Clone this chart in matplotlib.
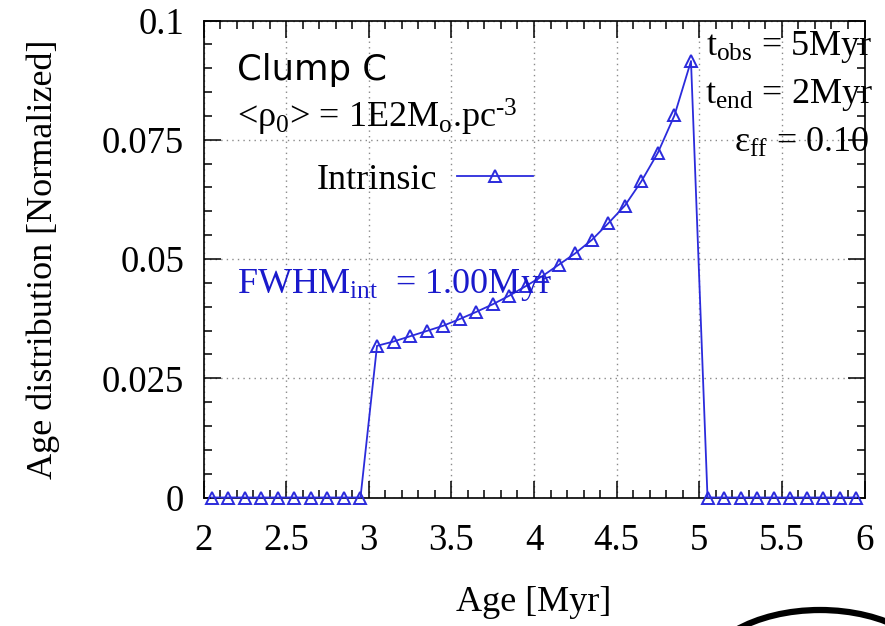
import matplotlib
matplotlib.use("Agg")
import matplotlib.pyplot as plt
from matplotlib.patches import Arc
from matplotlib.ticker import MultipleLocator
import numpy as np

# ---------------- data ----------------
age = [2.05, 2.15, 2.25, 2.35, 2.45, 2.55, 2.65, 2.75, 2.85, 2.95,
       3.05, 3.15, 3.25, 3.35, 3.45, 3.55, 3.65, 3.75, 3.85, 3.95,
       4.05, 4.15, 4.25, 4.35, 4.45, 4.55, 4.65, 4.75, 4.85, 4.95,
       5.05, 5.15, 5.25, 5.35, 5.45, 5.55, 5.65, 5.75, 5.85, 5.95]
intrinsic = [0, 0, 0, 0, 0, 0, 0, 0, 0, 0,
             0.0318, 0.0327, 0.0338, 0.0349, 0.0360, 0.0374, 0.0389, 0.0405, 0.0423, 0.0443,
             0.0464, 0.0488, 0.0512, 0.0540, 0.0575, 0.0612, 0.0663, 0.0723, 0.0801, 0.0915,
             0, 0, 0, 0, 0, 0, 0, 0, 0, 0]
xticks = [2, 2.5, 3, 3.5, 4, 4.5, 5, 5.5, 6]
xticklabels = ["2", "2.5", "3", "3.5", "4", "4.5", "5", "5.5", "6"]
yticks = [0, 0.025, 0.05, 0.075, 0.1]
yticklabels = ["0", "0.025", "0.05", "0.075", "0.1"]

plt.rcParams['font.family'] = ['Liberation Serif', 'DejaVu Serif']
plt.rcParams['mathtext.fontset'] = 'custom'
plt.rcParams['mathtext.rm'] = 'Liberation Serif'
plt.rcParams['mathtext.it'] = 'Liberation Serif:italic'
plt.rcParams['mathtext.bf'] = 'Liberation Serif:bold'

W, H = 885, 626
fig = plt.figure(figsize=(W / 100, H / 100), dpi=100)
L, R, T, B = 203.5, 864.5, 20.5, 497.5
ax = fig.add_axes([L / W, 1 - B / H, (R - L) / W, (B - T) / H])

blue = '#2b2bdc'
ax.plot(age, intrinsic, color=blue, lw=1.3, marker='^', markersize=8,
        markerfacecolor='none', markeredgecolor=blue, markeredgewidth=1.4,
        label='Intrinsic', zorder=3, clip_on=False)

ax.set_xlim(2, 6)
ax.set_ylim(0, 0.1)
ax.set_xticks(xticks)
ax.set_xticklabels(xticklabels)
ax.set_yticks(yticks)
ax.set_yticklabels(yticklabels)
ax.xaxis.set_minor_locator(MultipleLocator(0.1))
ax.yaxis.set_minor_locator(MultipleLocator(0.005))
ax.tick_params(which='both', direction='in', top=True, right=True, width=1.1, color='black')
ax.tick_params(which='major', length=12, labelsize=26.5)
ax.tick_params(which='minor', length=6)
ax.tick_params(axis='x', which='major', pad=19)
ax.tick_params(axis='y', which='major', pad=14)
for s in ax.spines.values():
    s.set_linewidth(1.2)
ax.grid(True, which='major', linestyle=(0, (1, 3)), color='#8a8a8a', lw=1.0)

ax.set_xlabel('Age [Myr]', fontsize=26)
ax.set_ylabel('Age distribution [Normalized]', fontsize=26)
ax.xaxis.set_label_coords(0.5, -(586 - B) / (B - T), transform=ax.transAxes)
ax.yaxis.set_label_coords(-(L - 60) / (R - L), 0.5, transform=ax.transAxes)

def fx(px):
    return px / W

def fy(py):
    return 1 - py / H

fig.text(fx(237), fy(70), 'Clump C', family='DejaVu Sans', fontsize=25.5, va='center', ha='left')
fig.text(fx(237), fy(117), '<ρ$_0$> = 1E2M$_\\mathrm{o}$.pc$^{\\text{-3}}$', fontsize=26, va='center', ha='left')
fig.text(fx(873), fy(47), r't$_\mathrm{obs}$ = 5Myr', fontsize=26, va='center', ha='right')
fig.text(fx(873), fy(95), r't$_\mathrm{end}$ = 2Myr', fontsize=26, va='center', ha='right')
fig.text(fx(869), fy(143), r'ε$_\mathrm{ff}$ = 0.10', fontsize=26, va='center', ha='right')
fig.text(fx(237), fy(285), r'FWHM$_\mathrm{int}$  = 1.00Myr', fontsize=26, va='center', ha='left', color='#1a1acc')

leg = ax.legend(loc='center left', bbox_to_anchor=(317 / W, fy(180)), bbox_transform=fig.transFigure,
                frameon=False, markerfirst=False, fontsize=26, numpoints=1, handlelength=2.1,
                handletextpad=0.55, borderpad=0, borderaxespad=0)

# decorative arc at the bottom right
ov = fig.add_axes([0, 0, 1, 1], zorder=-1)
ov.set_xlim(0, W)
ov.set_ylim(H, 0)
ov.axis('off')
ov.add_patch(Arc((820, 680), 240, 140, theta1=180, theta2=360, color='black', lw=4.5))

fig.savefig('out.png', dpi=100)
